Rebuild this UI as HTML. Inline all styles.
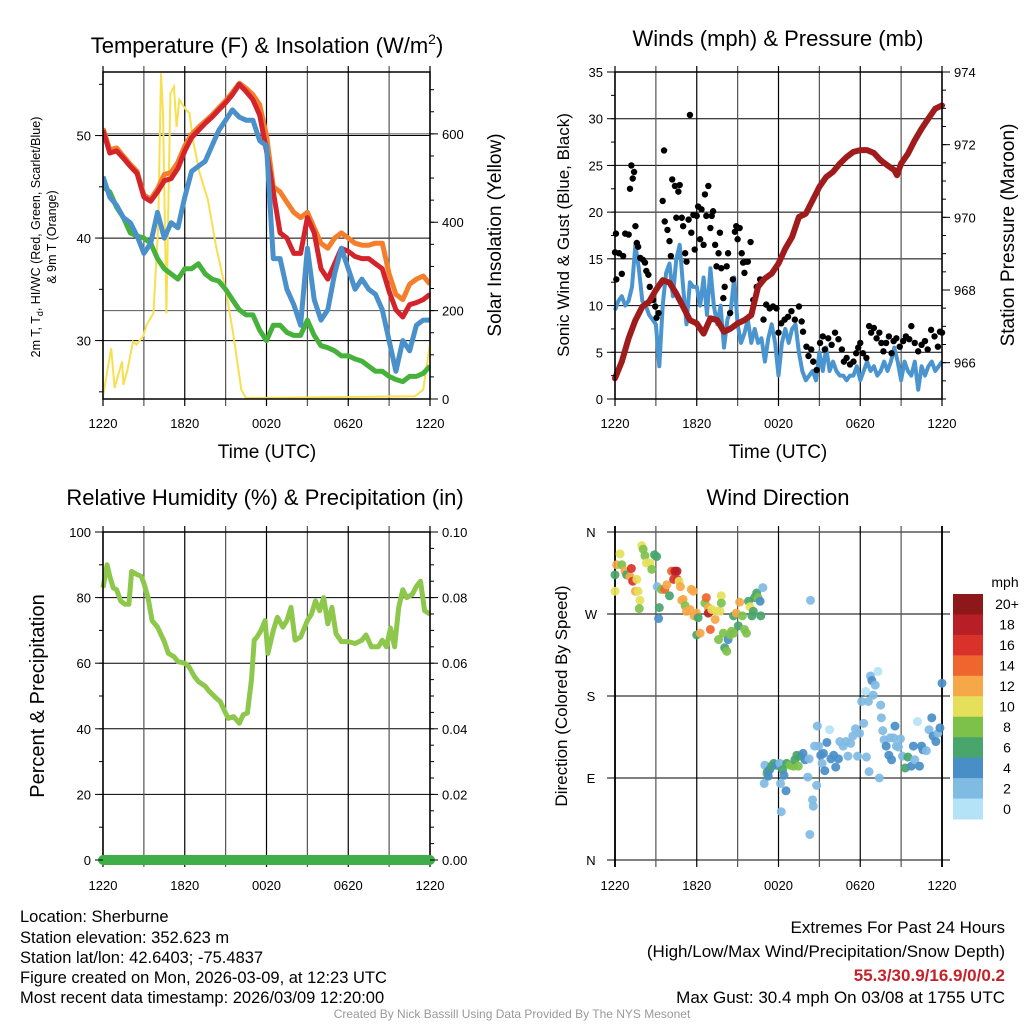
<!DOCTYPE html>
<html><head><meta charset="utf-8"><style>
html,body{margin:0;padding:0;background:#fff;}
svg{display:block;font-family:"Liberation Sans",Arial,sans-serif;}
</style></head><body>
<svg id="fig" width="1024" height="1024" viewBox="0 0 1024 1024">
<g font-size="22" text-anchor="middle" fill="#000">
<text x="267" y="53">Temperature (F) &amp; Insolation (W/m<tspan font-size="14" dy="-9">2</tspan><tspan dy="9">)</tspan></text>
<text x="778" y="46">Winds (mph) &amp; Pressure (mb)</text>
<text x="265" y="505">Relative Humidity (%) &amp; Precipitation (in)</text>
<text x="778" y="505">Wind Direction</text>
</g>
<g font-size="16.5" fill="#000">
<text x="20" y="922">Location: Sherburne</text>
<text x="20" y="943">Station elevation: 352.623 m</text>
<text x="20" y="963">Station lat/lon: 42.6403; -75.4837</text>
<text x="20" y="983">Figure created on Mon, 2026-03-09, at 12:23 UTC</text>
<text x="20" y="1003">Most recent data timestamp: 2026/03/09 12:20:00</text>
</g>
<g font-size="17" fill="#000" text-anchor="end">
<text x="1005" y="933">Extremes For Past 24 Hours</text>
<text x="1005" y="957">(High/Low/Max Wind/Precipitation/Snow Depth)</text>
<text x="1005" y="981" fill="#c4222a" font-weight="bold">55.3/30.9/16.9/0/0.2</text>
<text x="1005" y="1003">Max Gust: 30.4 mph On 03/08 at 1755 UTC</text>
</g>
<text x="512" y="1018" font-size="12" fill="#999" text-anchor="middle">Created By Nick Bassill Using Data Provided By The NYS Mesonet</text>
</svg>
<script>
// ---------- DATA ----------
const xTickLabels = ["1220","1820","0020","0620","1220"];
const hrs = [0,0.5,1,1.5,2,2.5,3,3.5,4,4.5,5,5.5,6,6.5,7,7.5,8,8.5,9,9.5,10,10.5,11,11.5,12,12.5,13,13.5,14,14.5,15,15.5,16,16.5,17,17.5,18,18.5,19,19.5,20,20.5,21,21.5,22,22.5,23,23.5,24];
const tempRed = [50.5,48.3,48.5,47.8,47,46.3,44,43.6,44.5,45.6,45.8,46.8,48.5,49.8,50.5,51.2,51.8,52.5,53.2,54,55,54.3,53.5,52,48.5,44.5,40.5,40,38.5,38.5,42,40.5,37,36,37.5,39,38.7,38.2,38,38,37.5,37,34.8,33,32.3,33.5,33.7,34,34.5];
const temp9m = [50.7,48.6,48.8,48,47.2,46.5,44.2,43.8,44.8,46.2,46.4,47.4,49,50.1,50.8,51.4,52,52.7,53.4,54.2,55.1,54.6,54,53,50,45,44.5,43.5,42.5,42,42.5,41,39.5,39,40,40.5,40,39.5,39.3,39.3,39.5,39.5,36.5,34.5,34,35.5,36,36.3,35.5];
const tempBlue = [46,44,43.2,42,41.5,40.2,38.5,39.5,42.5,40,41.5,41,44,46.5,47,47.5,49,50.5,51.5,52.5,51.8,51.5,51.5,49.5,49,38,38,35,33.5,31.5,39,34,32,33,36.5,39,37,35,36,35,34.5,33,30,27,30,29,31.5,32,32];
const dewGreen = [45,44.5,43,42,40.5,40.2,40,39.5,38,37,36.5,36,37,37,37.5,36.5,36,35.8,35,34,33,32.5,32.5,31,30,31.5,31.5,30.8,30.5,30.5,32,30.5,29.5,29.3,29,28.5,28.5,28.2,28,27.5,27,27,26.5,26.2,26,26.5,26.5,26.8,27.5];
const solarHrs = [0,0.6,0.85,1.4,1.5,1.8,2.2,2.45,2.95,3.2,3.7,4.05,4.26,4.4,4.65,4.95,5.2,5.4,5.6,6.1,6.35,6.6,7.1,7.7,8.3,9.05,9.55,10.15,10.5,22.9,23.5,24];
const solarVals = [6,115,25,85,32,66,130,123,142,168,194,390,737,647,194,692,707,616,677,654,647,586,511,451,345,240,149,21,2,6,21,127];

const windHrs = [0,0.25,0.5,0.75,1,1.25,1.5,1.75,2,2.25,2.5,2.75,3,3.25,3.5,3.75,4,4.25,4.5,4.75,5,5.25,5.5,5.75,6,6.25,6.5,6.75,7,7.25,7.5,7.75,8,8.25,8.5,8.75,9,9.25,9.5,9.75,10,10.25,10.5,10.75,11,11.25,11.5,11.75,12,12.25,12.5,12.75,13,13.25,13.5,13.75,14,14.25,14.5,14.75,15,15.25,15.5,15.75,16,16.25,16.5,16.75,17,17.25,17.5,17.75,18,18.25,18.5,18.75,19,19.25,19.5,19.75,20,20.25,20.5,20.75,21,21.25,21.5,21.75,22,22.25,22.5,22.75,23,23.25,23.5,23.75,24];
const windSpeed = [9.5,10.5,11,10,10.5,12,16.5,14,10.5,10,9,8.5,8,3.5,10,13.5,14.5,11,15,16.5,12,8,12.5,12,12,10,13,9,14,10,8,10,5.5,8.5,9.5,13,8,6,7,8.5,6,7.5,6,6.5,4,6.5,8,6,2.5,6,7.5,6,7.5,8,5,3,2,2.5,3,2,5,3,5.5,3,4,3,2.5,2.5,2,2.5,2.5,3.5,2,3,4,3,3.5,2.5,3,4,3,4,5.5,4,2,4,3,2.5,4,1,3.5,2.5,3.5,4,3,3.5,4];
const gustHrs = [0,0.07,0.1,0.3,0.5,0.6,0.75,1,1.1,1.2,1.3,1.4,1.5,1.6,1.7,1.85,2.05,2.2,2.3,2.45,2.55,2.8,2.95,3.05,3.2,3.5,3.6,3.65,3.85,4,4.1,4.2,4.4,4.5,4.65,4.75,4.9,5,5.15,5.25,5.4,5.5,5.6,5.75,5.85,6,6.1,6.25,6.35,6.5,6.6,6.7,6.85,7,7.1,7.2,7.35,7.45,7.6,7.7,7.8,7.95,8.05,8.2,8.3,8.45,8.65,8.8,8.9,9,9.15,9.3,9.4,9.5,9.65,9.75,9.95,10.15,10.4,10.65,10.9,11.1,11.35,11.6,11.85,12,12.2,12.45,12.7,12.95,13.2,13.5,13.7,13.8,14.05,14.2,14.4,14.55,14.8,15.05,15.25,15.4,15.65,15.9,16.15,16.4,16.65,16.8,17,17.25,17.5,17.7,17.85,18,18.2,18.45,18.65,18.8,19,19.2,19.4,19.55,19.7,19.9,20.1,20.3,20.45,20.65,20.9,21.15,21.35,21.6,21.75,22,22.25,22.5,22.75,22.95,23.2,23.45,23.7,23.85,24];
const gustVals = [15.7,17.7,12.8,15.6,13.4,15.3,17.7,17.6,22.5,25,23.6,24.3,18.5,16.7,16.3,15.1,14.9,14.6,13.7,13.3,12,10.6,9.9,8.7,9.2,21.2,26.6,19,18.1,16.9,15.3,23.5,22.8,19.4,22.2,22.9,19.4,18.5,15.6,14.7,19.2,30.4,17.8,19.7,16,19.6,20.6,17.1,20.3,16.5,21.9,19.6,22.8,18.3,19.6,20.1,16.5,14.2,15.6,17.8,14,10.8,12,14.2,15.6,9.2,12.8,17.9,18.5,17.1,18.3,15.6,14.6,13.5,14.7,14.7,16.8,10.6,12,12.8,8.5,10.1,9.7,9.9,9.7,7.1,8.1,8.5,8.8,9.4,8.5,9.9,8.3,7.2,5.6,4.6,5.3,4,3.1,6,6.7,5.3,6.5,5.8,7.1,6.4,5.3,4,4.4,3.7,4,4.9,5.5,6,4.9,4.4,7.8,7.1,7.6,6.5,7.1,6,5.1,6,6.7,4.9,6.2,6.5,5.6,6.2,6.7,6.4,7.8,6,5.1,5.8,6.2,5.3,7.4,6.7,5.6,7.2,7.1];
const presHrs = [0,0.5,1,1.5,2,2.5,3,3.5,4,4.5,5,5.5,6,6.5,7,7.5,8,8.5,9,9.5,10,10.5,11,11.5,12,12.5,13,13.5,14,14.5,15,15.5,16,16.5,17,17.5,18,18.5,19,19.5,20,20.5,20.7,21,21.5,22,22.5,23,23.5,24];
const presVals = [965.57,966.03,966.67,967.17,967.54,967.68,968.0,968.27,968.2,967.9,967.54,967.17,967.08,966.8,967.22,967.17,966.85,966.94,967.08,967.17,967.31,968.09,968.32,968.45,968.73,969.14,969.46,970.01,970.1,970.47,970.84,971.11,971.25,971.48,971.66,971.8,971.85,971.85,971.77,971.57,971.43,971.3,971.16,971.48,971.75,972.12,972.44,972.72,972.99,973.08];

const rhHrs = [0,0.3,0.5,0.75,1,1.3,1.6,1.9,2.1,2.5,2.8,3,3.3,3.6,4,4.5,4.8,5.2,5.5,6,6.3,6.7,7,7.5,7.8,8.2,8.6,9,9.2,9.6,10,10.3,10.6,10.9,11.1,11.3,11.6,11.9,12.1,12.5,12.8,13.2,13.5,13.8,14.1,14.5,15,15.3,15.6,15.9,16.2,16.5,16.8,17.1,17.5,18,18.5,19,19.3,19.7,20.2,20.5,20.8,21.1,21.4,21.7,22,22.3,22.7,23,23.3,23.6,24];
const rhVals = [83,90,86.5,83,82.4,79,78,78,88,87,86.5,84.4,80,73,71,66.6,63,62,60.5,60,59,56,54.4,53,51.4,49.8,48.3,44.8,43.2,43.7,41.7,44.3,44.8,55,67,68,70,73,63,70,74,71,73,77,67,68,73,75,79,76,80,72,77,69,66.6,66.6,66,67,68.6,65,65,67,65,70.7,65,77,82.4,80,81,83.4,85,76,75];
const precipHrs = [0,24];
const precipVals = [0,0];

const dirHrs = [0,0,0.37,0.12,0.5,0.73,0.85,1.1,1.2,1.3,1.5,1.6,1.7,1.83,1.78,1.96,2.07,2.2,2.3,2.57,2.7,2.9,3.05,3.1,3.25,3.2,3.4,3.65,3.8,4.0,4.15,4.3,4.4,4.55,4.57,4.7,4.8,4.9,5,5.15,5.25,5.5,5.6,5.75,5.8,5.98,6.1,6,6.25,6.6,6.7,6.85,6.85,7,7.1,7.35,7.45,7.6,7.7,7.8,7.8,7.95,8.05,8.2,8.3,8.45,8.55,8.7,8.7,8.9,9.05,9.15,9.35,9.5,9.65,9.8,9.9,10.05,10.15,10.25,10.4,10.5,10.65,10.7,10.85,14.35,11,11.15,11.2,10.95,11.25,11.35,11.5,11.65,11.85,12.1,12.15,12.2,12.3,12.4,12.55,12.6,12.85,13.1,13.2,13.35,13.45,13.6,13.8,13.95,14.15,14.25,14.3,14.5,14.55,14.65,14.85,14.8,14.95,15.1,15.2,15.3,15.4,15.55,15.75,15.85,16.05,16.2,16.4,16.5,16.75,16.95,17.1,17.3,17.45,17.65,17.8,17.95,18.1,18.25,18.4,18.45,18.6,18.65,18.75,18.85,18.95,19.1,19.3,19.4,19.5,19.55,19.65,19.75,19.9,20.1,20.2,20.3,20.45,20.55,20.65,20.8,20.95,21.1,21.3,21.5,21.75,21.9,22.0,22.2,22.35,22.5,22.6,22.85,23.05,23.25,23.35,23.55,23.7,23.85,24];
const dirDeg = [313,295,336,324,324,317,313,311,320,306,295,308,295,285,276,345,341,334,326,326,319,335,333,300,277,265,297,297,302,290,317,308,317,317,308,306,300,285,286,279,273,275,297,295,268,271,266,247,249,282,288,277,271,253,275,264,273,242,273,290,282,249,233,229,242,247,251,249,268,271,257,283,268,253,249,284,278,268,273,288,293,288,284,268,299,285,104,95,97,84,92,99,103,106,104,106,84,53,99,93,76,106,104,103,110,115,103,114,117,110,91,111,28,66,59,125,147,82,125,115,106,117,98,129,143,111,115,102,111,130,125,130,114,128,136,144,114,139,174,150,185,113,174,97,202,197,181,192,207,90,170,156,142,132,125,115,134,110,134,147,125,124,133,114,101,113,103,125,110,152,103,125,121,120,143,156,136,130,139,145,194];
const dirSpeed = [7,10,10,12,8,13,7,13,17,17,12,11,10,10,8,10,8,9,10,10,8,6,6,3,6,4,8,14,12,7,14,16,18,18,16,11,13,13,12,8,12,12,12,13,12,13,7,6,12,8,15,13,18,15,10,13,10,8,10,10,8,8,6,8,4,8,8,8,6,12,6,12,8,8,8,6,10,6,6,6,6,8,4,6,2,2,2,8,6,2,4,4,6,6,4,2,2,2,6,4,4,6,8,8,6,6,8,6,4,4,2,2,2,2,2,2,2,2,2,4,2,4,4,4,0,4,4,4,4,2,2,2,2,2,2,2,2,2,2,2,0,2,2,2,2,4,2,2,0,2,2,2,2,2,4,4,2,4,2,4,2,2,2,2,6,6,4,4,2,0,4,4,4,2,2,4,4,4,2,4,4];
const cbLabels = ["20+","18","16","14","12","10","8","6","4","2","0"];
const cbColors = ["#8e1719","#b81e25","#d8322b","#ee662d","#f6a848","#e6df5a","#7dc14b","#48a56b","#4a8ec8","#80bbe4","#b4e2f6"];

// ---------- HELPERS ----------
const NS="http://www.w3.org/2000/svg";
const svg=document.getElementById('fig');
function mk(tag,attrs,parent){const e=document.createElementNS(NS,tag);for(const k in attrs)e.setAttribute(k,attrs[k]);(parent||svg).appendChild(e);return e;}
function txt(s,x,y,attrs,parent){const e=mk('text',Object.assign({x:x,y:y},attrs),parent);e.textContent=s;return e;}

function panel(name,L,R,T,B){
  const g=mk('g',{});
  
  
  return {g,L,R,T,B,xs:h=>L+(R-L)*h/24};
}
function lin(d0,d1,p0,p1){return v=>p0+(v-d0)*(p1-p0)/(d1-d0);}

function timeGrid(P,labelY,hLines){
  hLines.forEach(y=>{const l=mk('line',{x1:P.L,x2:P.R,y1:y,y2:y,stroke:'#000','stroke-width':1},P.g);
    
    });
  for(let i=0;i<=8;i++){
    const x=P.xs(i*3);
    const l=mk('line',{x1:x,x2:x,y1:P.T-6,y2:P.B+7,stroke:i%2?'#555':'#000','stroke-width':1.2},P.g);
    
    
  }
  if(labelY){xTickLabels.forEach((s,i)=>{const t=txt(s,P.xs(i*6),labelY,{'font-size':13,'text-anchor':'middle'},P.g);
    
    });}
}
function frame(P){
  const r=mk('rect',{x:P.L,y:P.T,width:P.R-P.L,height:P.B-P.T,fill:'none',stroke:'#000','stroke-width':1.5},P.g);
  
  
}
function yAxis(P,side,ticks,labels,ys,minorTicks){
  const x=side==='L'?P.L:P.R, dir=side==='L'?-1:1;
  ticks.forEach((v,i)=>{const y=ys(v);
    mk('line',{x1:x,x2:x+dir*8,y1:y,y2:y,stroke:'#000','stroke-width':1},P.g);
    const t=txt(labels[i],side==='L'?x-12:x+12,y+5,{'font-size':13,'text-anchor':side==='L'?'end':'start'},P.g);
    
    });
  (minorTicks||[]).forEach(v=>{const y=ys(v);mk('line',{x1:x,x2:x+dir*4,y1:y,y2:y,stroke:'#000','stroke-width':1},P.g);});
}
function pathD(xsArr,ysArr,fx,fy){return xsArr.map((h,i)=>(i?'L':'M')+fx(h).toFixed(1)+','+fy(ysArr[i]).toFixed(1)).join('');}
function range(a,b,s){const r=[];for(let v=a;v<=b+1e-9;v+=s)r.push(+v.toFixed(4));return r;}
function rotText(s,x,y,size,parent,name){const t=txt(s,x,y,{'font-size':size,'text-anchor':'middle',transform:`rotate(-90 ${x} ${y})`},parent);
  
  return t;}

// ---------- PANEL 1: Temperature ----------
{
 const P=panel('temperature-chart',103,430,72,399);
 const yT=lin(24.3,56.2,399,72), yS=lin(0,740,399,72);
 timeGrid(P,428,[30,40,50].map(yT));
 mk('line',{x1:P.L,x2:P.R,y1:yS(600),y2:yS(600),stroke:'#555','stroke-width':1},P.g);
 mk('line',{x1:P.L,x2:P.R,y1:yS(200),y2:yS(200),stroke:'#555','stroke-width':1},P.g);
 const clip=mk('clipPath',{id:'c1'},P.g);mk('rect',{x:P.L,y:P.T,width:P.R-P.L,height:P.B-P.T},clip);
 const cg=mk('g',{'clip-path':'url(#c1)'},P.g);
 const s1=mk('path',{d:pathD(solarHrs,solarVals,P.xs,yS),fill:'none',stroke:'#f7e04f','stroke-width':2},cg);
 
 
 const s2=mk('path',{d:pathD(hrs,dewGreen,P.xs,yT),fill:'none',stroke:'#46b23c','stroke-width':5,'stroke-linejoin':'round'},cg);
 
 
 const s3=mk('path',{d:pathD(hrs,temp9m,P.xs,yT),fill:'none',stroke:'#f47e2a','stroke-width':5,'stroke-linejoin':'round'},cg);
 
 
 const s4=mk('path',{d:pathD(hrs,tempRed,P.xs,yT),fill:'none',stroke:'#d3242b','stroke-width':5,'stroke-linejoin':'round'},cg);
 
 
 const s5=mk('path',{d:pathD(hrs,tempBlue,P.xs,yT),fill:'none',stroke:'#4a90cb','stroke-width':5,'stroke-linejoin':'round'},cg);
 
 
 frame(P);
 yAxis(P,'L',[30,40,50],["30","40","50"],yT,range(25,55,5));
 yAxis(P,'R',[0,200,400,600],["0","200","400","600"],yS,range(0,700,50));
 rotText("2m T, T",40,237,12.5,P.g,'y-axis-title').innerHTML='2m T, T<tspan font-size="9" dy="3">d</tspan><tspan dy="-3">, HI/WC (Red, Green, Scarlet/Blue)</tspan>';
 rotText("& 9m T (Orange)",56,237,12.5,P.g,'y-axis-title-line2');
 rotText("Solar Insolation (Yellow)",501,235,19,P.g,'y2-axis-title');
 const xt=txt("Time (UTC)",267,458,{'font-size':19,'text-anchor':'middle'},P.g);
 
 
}

// ---------- PANEL 2: Winds ----------
{
 const P=panel('wind-chart',615,942,72,399);
 const yW=lin(0,35,399,72), yP=lin(965,974,399,72);
 timeGrid(P,428,range(5,30,5).map(yW));
 const clip=mk('clipPath',{id:'c2'},P.g);mk('rect',{x:P.L-4,y:P.T,width:P.R-P.L+8,height:P.B-P.T},clip);
 const cg=mk('g',{'clip-path':'url(#c2)'},P.g);
 const w=mk('path',{d:pathD(windHrs,windSpeed,P.xs,yW),fill:'none',stroke:'#4a95cf','stroke-width':4,'stroke-linejoin':'round'},cg);
 
 
 gustHrs.forEach((h,i)=>{const c=mk('circle',{cx:P.xs(h),cy:yW(gustVals[i]),r:3.2,fill:'#000'},cg);
   
   });
 const p=mk('path',{d:pathD(presHrs,presVals,P.xs,yP),fill:'none',stroke:'#a01c1c','stroke-width':6,'stroke-linejoin':'round','stroke-linecap':'round'},cg);
 
 
 frame(P);
 yAxis(P,'L',range(0,35,5),["0","5","10","15","20","25","30","35"],yW,range(0,35,2.5));
 yAxis(P,'R',[966,968,970,972,974],["966","968","970","972","974"],yP,range(965,974,0.5));
 rotText("Sonic Wind & Gust (Blue, Black)",569,235,17,P.g,'y-axis-title');
 rotText("Station Pressure (Maroon)",1014,235,19,P.g,'y2-axis-title');
 const xt=txt("Time (UTC)",778,458,{'font-size':19,'text-anchor':'middle'},P.g);
 
 
}

// ---------- PANEL 3: RH ----------
{
 const P=panel('humidity-chart',103,430,532,860);
 const yR=lin(0,100,860,532), yPr=lin(0,0.1,860,532);
 timeGrid(P,890,range(20,100,20).map(yR));
 const rl=mk('path',{d:pathD(rhHrs,rhVals,P.xs,yR),fill:'none',stroke:'#8dc74b','stroke-width':5,'stroke-linejoin':'round'},P.g);
 
 
 frame(P);
 const pl=mk('path',{d:pathD(precipHrs,precipVals,P.xs,yPr),fill:'none',stroke:'#3fae48','stroke-width':10,'stroke-linecap':'round'},P.g);
 
 
 yAxis(P,'L',range(0,100,20),["0","20","40","60","80","100"],yR,range(0,100,10));
 yAxis(P,'R',[0,0.02,0.04,0.06,0.08,0.1],["0.00","0.02","0.04","0.06","0.08","0.10"],yPr,range(0,0.1,0.005));
 rotText("Percent & Precipitation",44,696,20,P.g,'y-axis-title');
}

// ---------- PANEL 4: Direction ----------
{
 const P=panel('wind-direction-chart',615,942,532,860);
 const yD=lin(0,360,860,532);
 const dirLbl=["N","E","S","W","N"];
 [0,90,180,270,360].forEach((d,i)=>{const y=yD(d);
   const l=mk('line',{x1:P.L-8,x2:P.R+8,y1:y,y2:y,stroke:'#000','stroke-width':1},P.g);
   
   
   const t=txt(dirLbl[i],591,y+5,{'font-size':13,'text-anchor':'middle'},P.g);
   
   });
 timeGrid(P,890,[]);
 mk('line',{x1:P.L,x2:P.L,y1:P.T-6,y2:P.B+7,stroke:'#000','stroke-width':1.8},P.g);
 mk('line',{x1:P.R,x2:P.R,y1:P.T-6,y2:P.B+7,stroke:'#000','stroke-width':1.8},P.g);
 function col(s){if(s===undefined||isNaN(s))s=4;const idx=Math.max(0,Math.min(10,Math.floor(s/2)));return cbColors[10-idx];}
 dirHrs.forEach((h,i)=>{const c=mk('circle',{cx:P.xs(h),cy:yD(dirDeg[i]),r:4.5,fill:col(dirSpeed[i]),'fill-opacity':0.92},P.g);
   
   });
 rotText("Direction (Colored By Speed)",567,696,17,P.g,'y-axis-title');
 const cb=mk('g',{},P.g);
 
 
 const bh=(819-594)/11;
 cbLabels.forEach((s,i)=>{const r=mk('rect',{x:953,y:594+i*bh,width:30,height:bh+0.5,fill:cbColors[i]},cb);
   
   
   const t=txt(s,1007,594+i*bh+bh/2+5,{'font-size':14,'text-anchor':'middle'},cb);
   
   });
 const u=txt("mph",1005,587,{'font-size':14,'text-anchor':'middle'},cb);
 
 
}
</script>
</body></html>
